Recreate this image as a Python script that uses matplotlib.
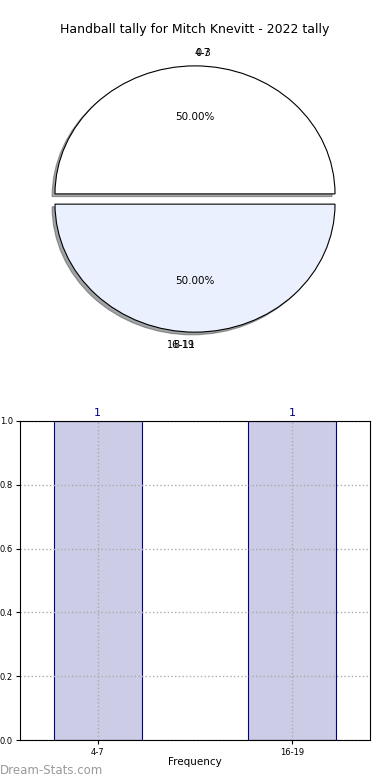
import matplotlib
matplotlib.use('Agg')
import matplotlib.pyplot as plt

title = 'Handball tally for Mitch Knevitt - 2022 tally'
categories = ['0-3', '4-7', '8-11', '16-19']
counts = [0, 1, 0, 1]
pie_colors = ['#ffffff', '#eaf0fd']

# only non-zero groups get a wedge; empty groups share the label spot
shown = [(c, n) for c, n in zip(categories, counts) if n > 0]
shown_labels = [c for c, n in shown]
shown_counts = [n for c, n in shown]

fig = plt.figure(figsize=(3.9, 7.8), dpi=100)

ax1 = fig.add_axes([13 / 390, 0.5315, 364 / 390, 0.4267])
wedges, texts, autotexts = ax1.pie(
    shown_counts, labels=shown_labels, colors=pie_colors,
    explode=[0.04] * len(shown_counts),
    shadow={'ox': -0.015, 'oy': -0.015, 'shade': 0.7},
    autopct='%.2f%%', pctdistance=0.6, labeldistance=1.1,
    wedgeprops={'edgecolor': 'black', 'linewidth': 0.8},
    textprops={'fontsize': 7.5})
for t in texts:
    t.set_fontsize(7)
    # top labels start at the centre line, bottom ones end there
    t.set_ha('left' if t.get_position()[1] > 0 else 'right')
# empty groups: draw their label on top of the neighbour's label
for i, (c, n) in enumerate(zip(categories, counts)):
    if n == 0:
        nxt = [j for j in range(i, len(categories)) if counts[j] > 0]
        k = shown_labels.index(categories[nxt[0]]) if nxt else -1
        x, y = texts[k].get_position()
        ax1.text(x, y, c, fontsize=7, ha=texts[k].get_ha(),
                 va=texts[k].get_va())
ax1.set_xlim(-1.3, 1.3)
ax1.set_ylim(-1.3, 1.3)
ax1.set_aspect('auto')
ax1.axis('off')
fig.text(0.5, 1 - 30 / 780, title, ha='center', va='center', fontsize=9)

ax2 = fig.add_axes([20 / 390, 40 / 780, 350 / 390, 319 / 780])
xpos = list(range(len(shown_labels)))
bars = ax2.bar(xpos, shown_counts, width=0.45, color='#ccccE6',
               edgecolor='navy', linewidth=0.8, zorder=2)
for b, n in zip(bars, shown_counts):
    ax2.text(b.get_x() + b.get_width() / 2, n + 0.01, str(n),
             ha='center', va='bottom', color='navy', fontsize=8)
ax2.set_xlim(-0.4, 1.4)
ax2.set_ylim(0, 1.0)
ax2.set_xticks(xpos)
ax2.set_xticklabels(shown_labels, fontsize=6)
ax2.set_yticks([0.0, 0.2, 0.4, 0.6, 0.8, 1.0])
ax2.tick_params(axis='y', labelsize=6, length=3, pad=2)
ax2.tick_params(axis='x', length=3, pad=3)
ax2.grid(True, linestyle=':', color='#aaaaaa', linewidth=1.0, zorder=3)
ax2.set_axisbelow(False)
for s in ax2.spines.values():
    s.set_zorder(4)
ax2.set_xlabel('Frequency', fontsize=7.5, labelpad=0)

fig.text(0.0, 1 - 770 / 780, 'Dream-Stats.com', ha='left', va='center',
         fontsize=8.5, color='#999999')

fig.savefig('out.png', dpi=100)
